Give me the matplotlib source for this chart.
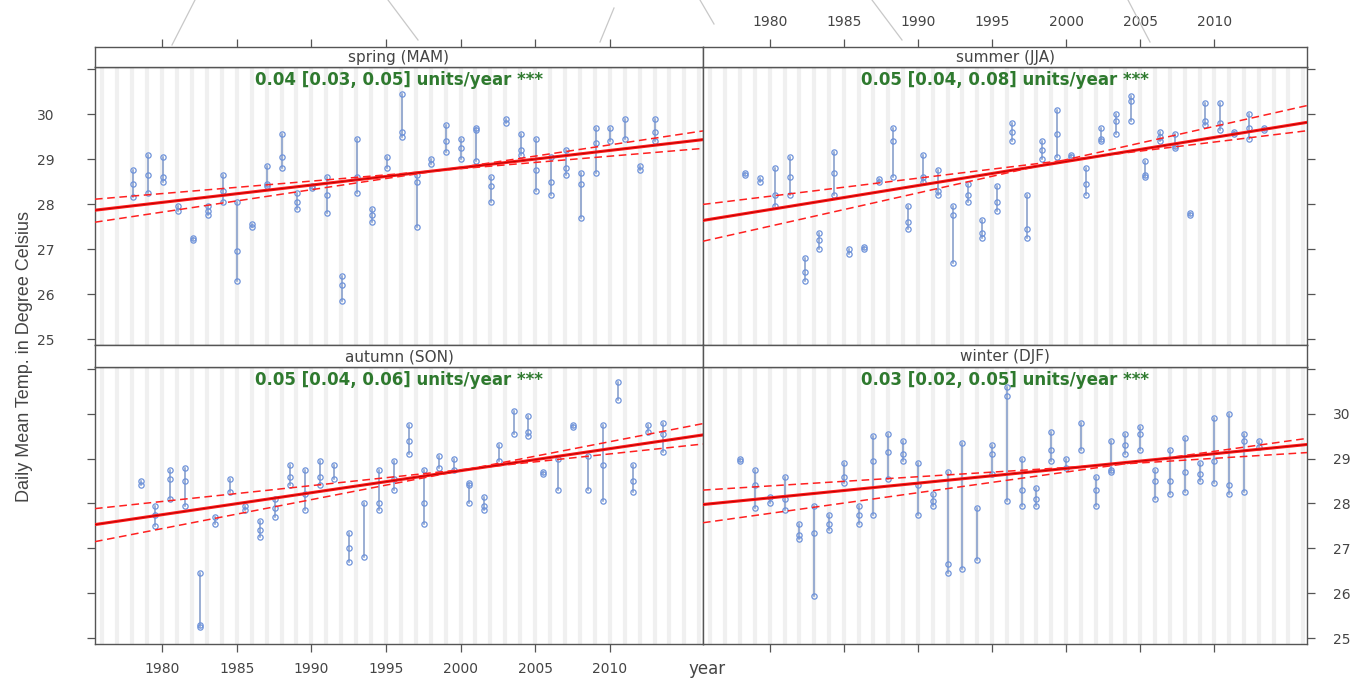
import matplotlib
matplotlib.use('Agg')
import matplotlib.pyplot as plt
import numpy as np

plt.rcParams['font.family'] = ['DejaVu Sans']

# ---------------- data ----------------
years = list(range(1978, 2014))
season_names = ['spring (MAM)', 'summer (JJA)', 'autumn (SON)', 'winter (DJF)']

spring = [[28.75, 28.45, 28.15], [29.1, 28.65, 28.25], [29.05, 28.6, 28.5], [27.95, 27.85],
          [27.25, 27.2], [27.95, 27.85, 27.75], [28.65, 28.3, 28.05], [28.05, 26.95, 26.3],
          [27.55, 27.5], [28.85, 28.45, 28.4], [29.55, 29.05, 28.8], [28.25, 28.05, 27.9],
          [28.4, 28.35], [28.6, 28.2, 27.8], [26.4, 26.2, 25.85], [29.45, 28.6, 28.25],
          [27.9, 27.75, 27.6], [29.05, 28.8], [30.45, 29.6, 29.5], [28.65, 28.5, 27.5],
          [29.0, 28.9], [29.75, 29.4, 29.15], [29.45, 29.25, 29.0], [29.7, 29.65, 28.95],
          [28.6, 28.4, 28.05], [29.9, 29.8], [29.55, 29.2, 29.1], [29.45, 28.75, 28.3],
          [29.05, 28.5, 28.2], [29.2, 28.8, 28.65], [28.7, 28.45, 27.7], [29.7, 29.35, 28.7],
          [29.7, 29.4], [29.9, 29.45], [28.85, 28.75], [29.9, 29.6, 29.4]]

summer = [[28.7, 28.65], [28.58, 28.5], [28.8, 28.2, 27.95], [29.05, 28.6, 28.2],
          [26.8, 26.5, 26.3], [27.35, 27.2, 27.0], [29.15, 28.7, 28.2], [27.0, 26.9],
          [27.05, 27.0], [28.55, 28.5], [29.7, 29.4, 28.6], [27.95, 27.6, 27.45],
          [29.1, 28.6, 28.5], [28.75, 28.3, 28.2], [27.95, 27.75, 26.7], [28.45, 28.2, 28.05],
          [27.65, 27.35, 27.25], [28.4, 28.05, 27.85], [29.8, 29.6, 29.4], [28.2, 27.45, 27.25],
          [29.4, 29.2, 29.0], [30.1, 29.55, 29.05], [29.1, 29.05], [28.8, 28.45, 28.2],
          [29.7, 29.45, 29.4], [30.0, 29.85, 29.55], [30.4, 30.3, 29.85], [28.95, 28.65, 28.6],
          [29.6, 29.5, 29.4], [29.55, 29.3, 29.25], [27.8, 27.75], [30.25, 29.85, 29.75],
          [30.25, 29.8, 29.65], [29.6, 29.55], [30.0, 29.7, 29.45], [29.7, 29.65]]

autumn = [[28.5, 28.4], [27.95, 27.75, 27.5], [28.75, 28.55, 28.1], [28.8, 28.5, 27.95],
          [26.45, 25.3, 25.25], [27.7, 27.55], [28.55, 28.25], [27.95, 27.85],
          [27.6, 27.4, 27.25], [28.1, 27.9, 27.7], [28.85, 28.6, 28.4], [28.75, 28.2, 27.85],
          [28.95, 28.6, 28.4], [28.85, 28.55], [27.35, 27.0, 26.7], [28.0, 26.8],
          [28.75, 28.0, 27.85], [28.95, 28.55, 28.3], [29.75, 29.4, 29.1], [28.75, 28.0, 27.55],
          [29.05, 28.8], [29.0, 28.75], [28.45, 28.4, 28.0], [28.15, 27.95, 27.85],
          [29.3, 28.95], [30.05, 29.55], [29.95, 29.6, 29.5], [28.7, 28.65],
          [29.0, 28.3], [29.75, 29.7], [29.05, 28.3], [29.75, 28.85, 28.05],
          [30.7, 30.3], [28.85, 28.5, 28.25], [29.75, 29.6], [29.8, 29.55, 29.15]]

winter = [[29.0, 28.95], [28.75, 28.4, 27.9], [28.15, 28.0], [28.6, 28.1, 27.85],
          [27.55, 27.3, 27.2], [27.95, 27.35, 25.95], [27.75, 27.55, 27.4], [28.9, 28.6, 28.45],
          [27.95, 27.75, 27.55], [29.5, 28.95, 27.75], [29.55, 29.15, 28.55], [29.4, 29.1, 28.95],
          [28.9, 28.4, 27.75], [28.2, 28.05, 27.95], [28.7, 26.65, 26.45], [29.35, 26.55],
          [27.9, 26.75], [29.3, 29.1, 28.65], [30.6, 30.4, 28.05], [29.0, 28.3, 27.95],
          [28.35, 28.1, 27.95], [29.6, 29.2, 28.95], [29.0, 28.8], [29.8, 29.2],
          [28.6, 28.3, 27.95], [29.4, 28.75, 28.7], [29.55, 29.3, 29.1], [29.7, 29.55, 29.2],
          [28.75, 28.5, 28.1], [29.2, 28.5, 28.2], [29.45, 28.7, 28.25], [28.9, 28.65, 28.5],
          [29.9, 28.95, 28.45], [30.0, 28.4, 28.2], [29.55, 29.4, 28.25], [29.4, 29.25]]

# Theil-Sen trend: value at year 2000 and slope (units/year)
trend_2000 = [28.81, 28.95, 28.73, 28.78]
trend_slope = [0.0385, 0.0535, 0.049, 0.0328]
lo_2000 = [28.79, 28.98, 28.75, 28.80]
lo_slope = [0.0277, 0.0402, 0.0353, 0.0205]
hi_2000 = [28.82, 28.99, 28.73, 28.70]
hi_slope = [0.0498, 0.074, 0.0645, 0.0461]
trend_labels = ['0.04 [0.03, 0.05] units/year ***', '0.05 [0.04, 0.08] units/year ***',
                '0.05 [0.04, 0.06] units/year ***', '0.03 [0.02, 0.05] units/year ***']

xticks = [1980, 1985, 1990, 1995, 2000, 2005, 2010]
yticks = [25, 26, 27, 28, 29, 30, 31]
ytick_labels = ['25', '26', '27', '28', '29', '30', '']

# ---------------- layout ----------------
W, H = 1351, 680
fig = plt.figure(figsize=(W / 100, H / 100), dpi=100)
fig.patch.set_facecolor('white')

def fx(px):
    return px / W

def fy(py):
    return 1 - py / H

xl, xm, xr = 95, 703, 1307
top_strip = (46.7, 67)
top_panel = (67, 345)
bot_strip = (345, 366.5)
bot_panel = (366.5, 644)

datasets = [spring, summer, autumn, winter]
offsets = [0.05, 0.35, 0.55, 0.0]
cells = [(xl, xm, top_strip, top_panel), (xm, xr, top_strip, top_panel),
         (xl, xm, bot_strip, bot_panel), (xm, xr, bot_strip, bot_panel)]

XLIM = (1975.5, 2016.25)
YLIM = (24.87, 31.05)
grey = '#555555'
txt_col = '#444444'
pt_col = '#6f93da'
seg_col = '#8099c8'

for i, (x0, x1, strip, pan) in enumerate(cells):
    ax = fig.add_axes([fx(x0), fy(pan[1]), fx(x1) - fx(x0), fy(pan[0]) - fy(pan[1])])
    sax = fig.add_axes([fx(x0), fy(strip[1]), fx(x1) - fx(x0), fy(strip[0]) - fy(strip[1])])

    # background faint year grid
    for yr in range(1976, 2017):
        ax.axvline(yr, color='#f0f0f0', lw=3, zorder=0)

    data = datasets[i]
    for yr, vals in zip(years, data):
        xx = yr + offsets[i]
        ax.plot([xx, xx], [min(vals), max(vals)], color=seg_col, lw=1.1, zorder=2)
        ax.plot([xx] * len(vals), vals, ls='none', marker='o', ms=3.8, mfc='none',
                mec=pt_col, mew=0.9, zorder=3)

    xs = np.array(XLIM)
    ax.plot(xs, trend_2000[i] + trend_slope[i] * (xs - 2000), color='#ff1a1a', lw=2.2, zorder=4)
    ax.plot(xs, trend_2000[i] + trend_slope[i] * (xs - 2000), color='#b00000', lw=0.6, zorder=5)
    ax.plot(xs, lo_2000[i] + lo_slope[i] * (xs - 2000), color='#ff2020', lw=1.1,
            ls=(0, (5, 3)), zorder=4)
    ax.plot(xs, hi_2000[i] + hi_slope[i] * (xs - 2000), color='#ff2020', lw=1.1,
            ls=(0, (5, 3)), zorder=4)

    ax.text(0.5, 0.985, trend_labels[i], transform=ax.transAxes, ha='center', va='top',
            color='#2f7a2f', fontsize=12, fontweight='bold', zorder=6)

    ax.set_xlim(*XLIM)
    ax.set_ylim(*YLIM)
    ax.set_xticks(xticks)
    ax.set_yticks(yticks)
    ax.set_yticklabels(ytick_labels)
    for sp in ax.spines.values():
        sp.set_color(grey)
        sp.set_linewidth(1.0)
    ax.tick_params(direction='out', length=6, width=0.9, color=grey, labelcolor=txt_col,
                   labelsize=10)

    top_row = i < 2
    left_col = i % 2 == 0
    ax.tick_params(axis='x', bottom=not top_row, top=False,
                   labelbottom=(i == 2), labeltop=False, pad=7)
    ax.tick_params(axis='y', left=left_col, right=not left_col,
                   labelleft=(i == 0), labelright=(i == 3))
    if i == 0:
        ax.tick_params(axis='y', pad=23)
    if i == 3:
        ax.tick_params(axis='y', pad=13)

    # strip
    sax.set_xlim(*XLIM)
    sax.set_yticks([])
    sax.set_facecolor('white')
    for sp in sax.spines.values():
        sp.set_color(grey)
        sp.set_linewidth(1.0)
    sax.text(0.5, 0.45, season_names[i], transform=sax.transAxes, ha='center', va='center',
             fontsize=11, color=txt_col)
    if top_row:
        sax.set_xticks(xticks)
        sax.tick_params(axis='x', bottom=False, top=True, labelbottom=False,
                        labeltop=(i == 1), direction='out', length=6, width=0.9,
                        color=grey, labelcolor=txt_col, labelsize=10, pad=7)
    else:
        sax.set_xticks([])

fig.text(fx(25), fy(357), 'Daily Mean Temp. in Degree Celsius', rotation=90,
         ha='center', va='center', fontsize=13, color=txt_col, family='Liberation Sans')
fig.text(fx(707), fy(669), 'year', ha='center', va='center', fontsize=12, color=txt_col)

# faint stray lines at the top edge of the source picture
for (a, b, c, d) in [(172, 45, 195, 0), (388, 0, 418, 40), (600, 42, 614, 8),
                     (700, 0, 714, 24), (872, 0, 902, 40), (1128, 0, 1150, 42)]:
    fig.add_artist(plt.Line2D([fx(a), fx(c)], [fy(b), fy(d)], color='#c8c8c8', lw=0.9))

fig.savefig('out.png', dpi=100, facecolor='white')
